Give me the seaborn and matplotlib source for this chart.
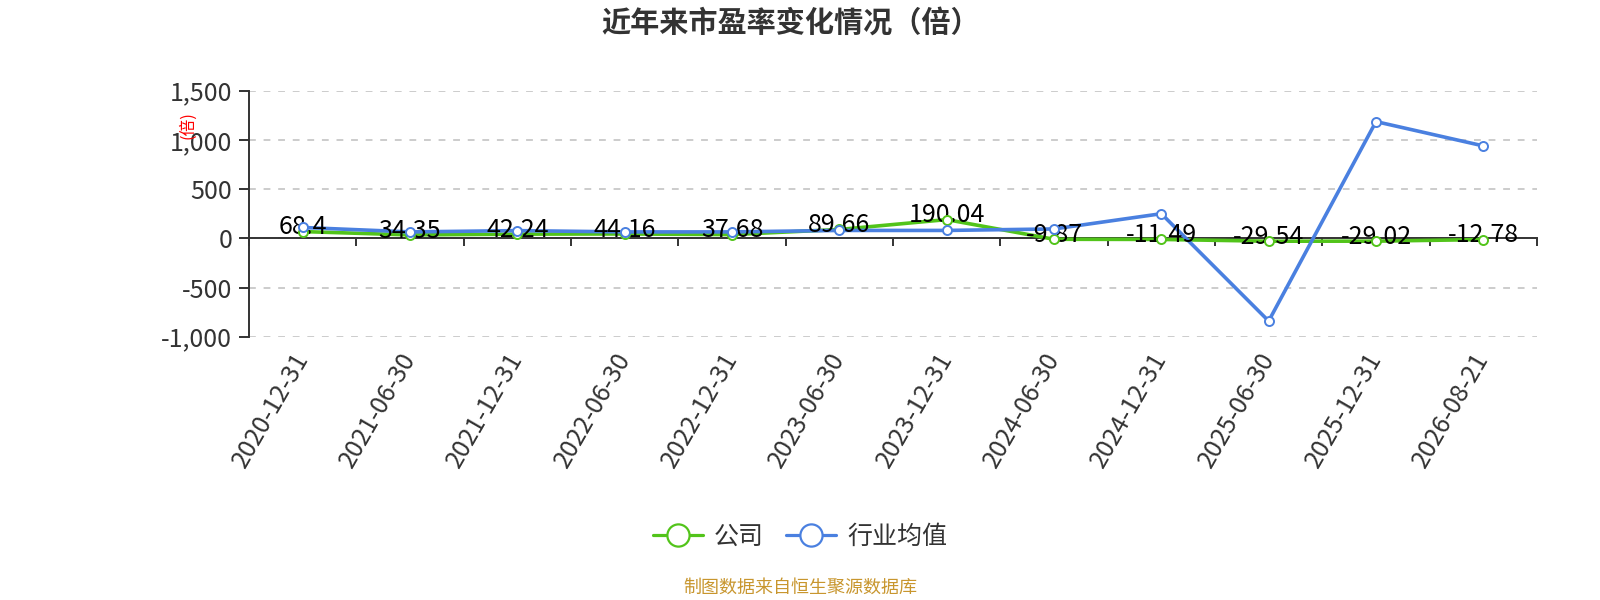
import numpy as np
import pandas as pd
import matplotlib
matplotlib.use("Agg")
import matplotlib.pyplot as plt
from matplotlib.lines import Line2D
from matplotlib.ticker import FuncFormatter, FixedLocator
import seaborn as sns

dates = ["2020-12-31", "2021-06-30", "2021-12-31", "2022-06-30", "2022-12-31",
         "2023-06-30", "2023-12-31", "2024-06-30", "2024-12-31", "2025-06-30",
         "2025-12-31", "2026-08-21"]
company = [68.4, 34.35, 42.24, 44.16, 37.68, 89.66, 190.04, -9.87, -11.49,
           -29.54, -29.02, -12.78]
industry = [110, 65, 78, 65, 65, 80, 80, 95, 250, -841, 1186, 939]
yticks = [-1000, -500, 0, 500, 1000, 1500]

title = "近年来市盈率变化情况（倍）"
series_names = ["公司", "行业均值"]
source = "制图数据来自恒生聚源数据库"
unit = "(倍)"

GREEN = "#52c41a"
BLUE = "#4a80e0"

sns.set_style("white")
plt.rcParams["font.family"] = ["Noto Sans CJK SC", "DejaVu Sans"]
plt.rcParams["axes.unicode_minus"] = False

idx = np.arange(len(dates))
df = pd.DataFrame({"idx": idx, "company": company, "industry": industry})

fig = plt.figure(figsize=(16, 6), dpi=100)
ax = fig.add_axes([249 / 1600, 1 - 336.7 / 600, 1288 / 1600, 246 / 600])

# lines
sns.lineplot(data=df, x="idx", y="company", color=GREEN, lw=2.6, ax=ax, zorder=3)
sns.lineplot(data=df, x="idx", y="industry", color=BLUE, lw=2.6, ax=ax, zorder=3.5)

# labels
for i, v in zip(idx, company):
    ax.annotate(f"{v}", (i, v), xytext=(0, 3), textcoords="offset points",
                ha="center", va="center", fontsize=18, color="black", zorder=4)

# markers
sns.lineplot(data=df, x="idx", y="company", color=GREEN, linestyle="none",
             marker="o", markersize=6.5, markerfacecolor="white",
             markeredgecolor=GREEN, markeredgewidth=1.4, ax=ax, zorder=5)
sns.lineplot(data=df, x="idx", y="industry", color=BLUE, linestyle="none",
             marker="o", markersize=6.5, markerfacecolor="white",
             markeredgecolor=BLUE, markeredgewidth=1.4, ax=ax, zorder=5.5)

ax.set_xlim(-0.5, len(dates) - 0.5)
ax.set_ylim(yticks[0], yticks[-1])
ax.set_xlabel("")
ax.set_ylabel("")

# y axis
ax.yaxis.set_major_locator(FixedLocator(yticks))
ax.yaxis.set_major_formatter(FuncFormatter(lambda v, p: f"{int(v):,}"))
ax.tick_params(axis="y", which="major", length=7, width=1.4, color="#333333",
               direction="out", pad=5, labelsize=18, labelcolor="#333333", left=True)
ax.grid(axis="y", color="#cccccc", linestyle=(0, (3.5, 4)), linewidth=1.4, zorder=0)
ax.grid(axis="x", visible=False)

# x axis line at zero with boundary ticks
ax.spines["bottom"].set_position(("data", 0))
for s in ["top", "right"]:
    ax.spines[s].set_visible(False)
for s in ["left", "bottom"]:
    ax.spines[s].set_color("#333333")
    ax.spines[s].set_linewidth(1.4)
    ax.spines[s].set_zorder(2.5)
ax.set_xticks(idx)
ax.set_xticklabels([])
ax.set_xticks(np.arange(len(dates) + 1) - 0.5, minor=True)
ax.tick_params(axis="x", which="major", length=0, bottom=False)
ax.tick_params(axis="x", which="minor", length=6, width=1.4, color="#333333",
               direction="out", bottom=True)

# category labels below the plot
sec = ax.secondary_xaxis(0.0)
sec.spines["bottom"].set_visible(False)
sec.set_xticks(idx)
sec.set_xticklabels(dates, rotation=60, ha="right", va="center",
                    rotation_mode="anchor", fontsize=18, color="#333333")
sec.tick_params(axis="x", length=0, pad=13)

# unit label
ax.text(-0.0474, 0.861, unit, transform=ax.transAxes, rotation=90,
        ha="center", va="center", fontsize=12, color="red")

# title
fig.text(0.494, 0.963, title, ha="center", va="center", fontsize=21,
         fontweight="bold", color="#333333")

# legend
handles = [
    Line2D([0], [0], color=GREEN, lw=2.3, marker="o", markersize=16,
           markerfacecolor="white", markeredgecolor=GREEN, markeredgewidth=1.6),
    Line2D([0], [0], color=BLUE, lw=2.3, marker="o", markersize=16,
           markerfacecolor="white", markeredgecolor=BLUE, markeredgewidth=1.6),
]
leg = fig.legend(handles, series_names, loc="center", bbox_to_anchor=(0.5, 1 - 537 / 600),
                 ncol=2, frameon=False, fontsize=18, handlelength=2.0,
                 handletextpad=0.45, columnspacing=0.9, numpoints=1)
for t in leg.get_texts():
    t.set_color("#333333")

fig.text(0.5, 1 - 588 / 600, source, ha="center", va="center", fontsize=13,
         color="#c8962e")

fig.savefig("out.png", dpi=100)
